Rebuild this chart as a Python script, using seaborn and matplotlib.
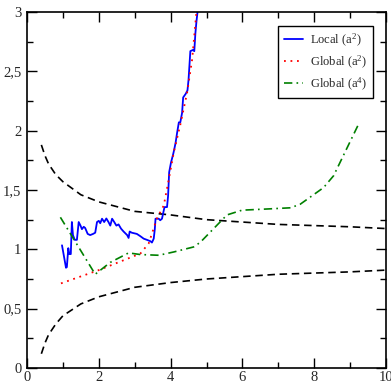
import matplotlib
matplotlib.use("Agg")
import matplotlib.pyplot as plt
import seaborn as sns
import pandas as pd
from matplotlib.ticker import MultipleLocator

# ---- data ----
local_x = [0.975, 1.086, 1.11, 1.15, 1.18, 1.22, 1.25, 1.28, 1.33, 1.39, 1.44, 1.49, 1.53, 1.58, 1.62,
           1.69, 1.76, 1.84, 1.90, 1.95, 2.0, 2.04, 2.09, 2.15, 2.21, 2.27, 2.32, 2.37, 2.43, 2.49,
           2.55, 2.62, 2.69, 2.79, 2.83, 2.86, 2.92, 3.06, 3.16, 3.25, 3.34, 3.44, 3.48, 3.53, 3.56,
           3.58, 3.67, 3.71, 3.76, 3.83, 3.90, 3.93, 3.96, 4.01, 4.07, 4.10, 4.14, 4.18, 4.23, 4.27,
           4.32, 4.35, 4.42, 4.47, 4.50, 4.55, 4.62, 4.66, 4.69, 4.72, 4.75]
local_y = [1.034, 0.845, 0.85, 1.01, 0.96, 0.96, 1.23, 1.12, 1.08, 1.08, 1.23, 1.20, 1.17, 1.19, 1.18,
           1.13, 1.12, 1.13, 1.14, 1.23, 1.24, 1.22, 1.258, 1.23, 1.26, 1.23, 1.20, 1.258, 1.23, 1.20,
           1.21, 1.174, 1.15, 1.12, 1.096, 1.15, 1.14, 1.13, 1.11, 1.09, 1.08, 1.068, 1.057, 1.09, 1.17,
           1.258, 1.258, 1.245, 1.258, 1.356, 1.356, 1.45, 1.65, 1.73, 1.80, 1.84, 1.90, 1.98, 2.07, 2.07,
           2.15, 2.28, 2.31, 2.34, 2.43, 2.67, 2.68, 2.67, 2.82, 2.92, 3.0]

glob2_x = [0.946, 2.0, 2.79, 3.16, 3.39, 3.62, 3.81, 3.95, 4.09, 4.27, 4.46, 4.60, 4.72, 4.80]
glob2_y = [0.713, 0.825, 0.92, 0.965, 1.05, 1.26, 1.37, 1.59, 1.82, 2.05, 2.32, 2.60, 3.0, 3.2]

glob4_x = [0.93, 1.90, 2.32, 2.83, 3.16, 3.67, 4.09, 4.64, 4.83, 5.57, 5.99, 6.69, 7.34, 7.61, 8.26, 8.54, 9.26]
glob4_y = [1.27, 0.79, 0.89, 0.97, 0.956, 0.95, 0.978, 1.02, 1.06, 1.29, 1.33, 1.34, 1.35, 1.38, 1.52, 1.62, 2.07]

band_x = [0.4, 0.5, 0.6, 0.8, 1.0, 1.5, 2.0, 3.0, 4.0, 5.0, 6.0, 7.0, 8.0, 9.0, 10.0]
band_upper = [1.88, 1.79, 1.72, 1.63, 1.57, 1.46, 1.40, 1.32, 1.29, 1.25, 1.23, 1.21, 1.20, 1.19, 1.175]
band_lower = [0.12, 0.21, 0.28, 0.37, 0.44, 0.54, 0.60, 0.68, 0.72, 0.75, 0.77, 0.79, 0.80, 0.81, 0.825]

x_ticks = [0, 2, 4, 6, 8, 10]
x_labels = ["0", "2", "4", "6", "8", "10"]
y_ticks = [0, 0.5, 1, 1.5, 2, 2.5, 3]
y_labels = ["0", "0,5", "1", "1,5", "2", "2,5", "3"]

labels = ["Local (a$^2$)", "Global (a$^2$)", "Global (a$^4$)"]

# ---- plot ----
sns.set_style("ticks")
plt.rcParams['font.family'] = ['Liberation Serif', 'DejaVu Serif']
plt.rcParams['mathtext.fontset'] = 'custom'
plt.rcParams['mathtext.rm'] = 'Liberation Serif'
plt.rcParams['mathtext.it'] = 'Liberation Serif:italic'

fig = plt.figure(figsize=(3.91, 3.85), dpi=100)
ax = fig.add_axes([27/391, 17/385, 359/391, 356/385])

dash_black = (0, (4.5, 2.8))
sns.lineplot(x=band_x, y=band_upper, ax=ax, color="black", lw=1.2, linestyle="-", sort=False)
sns.lineplot(x=band_x, y=band_lower, ax=ax, color="black", lw=1.2, linestyle="-", sort=False)
for ln in ax.lines:
    ln.set_linestyle(dash_black)

sns.lineplot(x=local_x, y=local_y, ax=ax, color="#0000ff", lw=1.3, sort=False, label=labels[0])
n = len(ax.lines)
sns.lineplot(x=glob2_x, y=glob2_y, ax=ax, color="#ff0000", lw=1.3, sort=False, label=labels[1])
ax.lines[n].set_linestyle((0, (1, 2.6)))
n = len(ax.lines)
sns.lineplot(x=glob4_x, y=glob4_y, ax=ax, color="#008000", lw=1.2, sort=False, label=labels[2])
ax.lines[n].set_linestyle((0, (5, 2.5, 1, 2.5)))

ax.set_xlim(0, 10)
ax.set_ylim(0, 3)
ax.set_xticks(x_ticks)
ax.set_xticklabels(x_labels)
ax.set_yticks(y_ticks)
ax.set_yticklabels(y_labels)
ax.xaxis.set_minor_locator(MultipleLocator(1))
ax.yaxis.set_minor_locator(MultipleLocator(0.25))
ax.tick_params(which="both", direction="in", top=True, right=True, labelsize=10.5, color="black", width=1)
ax.tick_params(which="major", length=7)
ax.tick_params(axis="x", which="major", pad=2)
ax.tick_params(axis="y", which="major", pad=4)
ax.tick_params(which="minor", length=4)
for s in ax.spines.values():
    s.set_visible(True)
    s.set_linewidth(1.2)
    s.set_color("black")
ax.set_xlabel("")
ax.set_ylabel("")

leg = ax.legend(loc="upper right", bbox_to_anchor=(0.964, 0.961), borderaxespad=0, fontsize=9,
                frameon=True, fancybox=False, edgecolor="black", framealpha=1, handlelength=1.5,
                borderpad=0.45, labelspacing=0.4, handletextpad=0.6)
leg.get_frame().set_linewidth(1.0)

fig.savefig("out.png", dpi=100)
